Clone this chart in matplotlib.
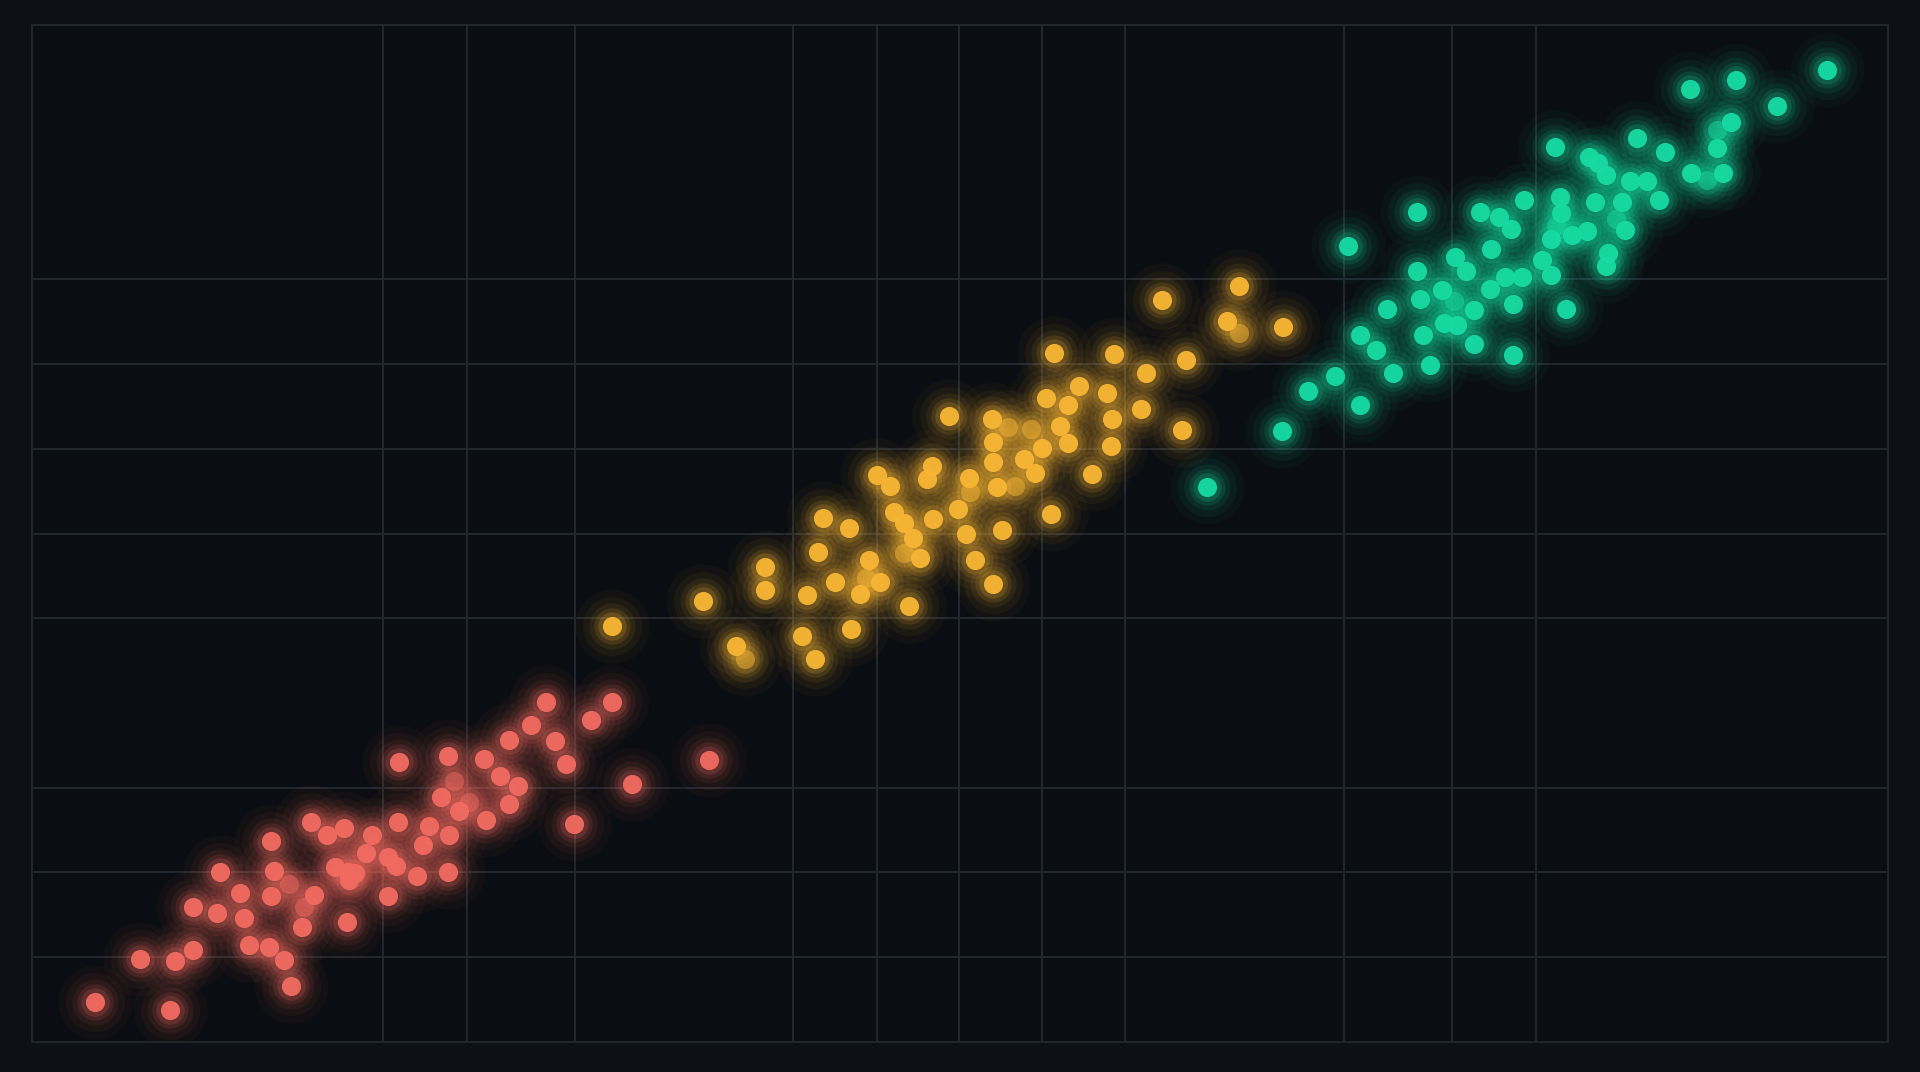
import matplotlib
matplotlib.use("Agg")
import matplotlib.pyplot as plt

# cluster values (x, y), axis range 0-100
red_x = [3.42, 7.45, 5.80, 7.71, 8.70, 13.98, 13.58, 12.79, 11.67, 8.70,
         9.95, 11.41, 11.21, 10.15, 12.86, 13.06, 12.86, 14.57, 15.17, 16.95,
         15.03, 15.89, 16.82, 16.35, 17.08, 17.41, 17.00, 18.00, 18.33, 19.19,
         19.59, 19.19, 19.72, 20.77, 21.04, 21.37, 22.42, 22.49, 22.03, 23.02,
         22.42, 19.78, 24.34, 24.47, 25.19, 25.72, 25.72, 26.18, 26.91, 27.70,
         28.16, 28.76, 29.22, 30.14, 31.26, 32.32, 36.47]
red_y = [3.97, 3.13, 8.19, 7.95, 9.03, 5.54, 8.07, 9.39, 9.51, 13.24,
         12.64, 12.16, 14.69, 16.74, 14.33, 16.86, 19.75, 11.32, 14.45, 11.80,
         21.67, 20.35, 21.07, 17.22, 15.89, 16.62, 16.70, 18.54, 20.35, 18.18,
         17.34, 14.33, 21.67, 16.37, 19.38, 21.19, 16.74, 20.35, 24.08, 22.76,
         28.17, 27.57, 27.81, 21.79, 26.13, 29.74, 23.36, 25.16, 31.18, 33.47,
         29.62, 27.33, 21.43, 31.67, 33.47, 25.40, 27.69]
red_dim_x = [14.64, 13.85, 22.75, 23.54]
red_dim_y = [13.24, 15.53, 25.65, 23.60]

yellow_x = [31.26, 36.14, 37.93, 39.51, 39.51, 41.49, 41.75, 42.21, 42.35, 42.61,
            43.27, 44.00, 44.13, 44.59, 45.12, 45.71, 45.51, 46.24, 46.44, 46.96,
            47.23, 47.49, 47.82, 48.22, 48.48, 48.55, 49.40, 49.87, 50.33, 50.46,
            50.79, 51.71, 51.78, 51.78, 51.78, 51.98, 52.24, 53.43, 54.02, 54.42,
            54.62, 54.88, 55.08, 55.41, 55.81, 55.81, 56.40, 57.12, 57.92, 58.18,
            58.11, 58.31, 59.76, 60.03, 60.88, 61.94, 62.20, 64.38, 65.04, 67.42]
yellow_y = [40.94, 43.34, 38.89, 46.72, 44.43, 39.97, 43.95, 37.69, 48.16, 51.53,
            45.27, 50.57, 40.57, 44.07, 47.44, 45.27, 55.75, 54.66, 52.13, 51.05,
            42.86, 49.60, 47.56, 55.38, 56.59, 51.41, 61.52, 52.37, 49.97, 55.50,
            47.44, 61.28, 59.00, 57.07, 45.03, 54.54, 50.33, 57.31, 55.99, 58.39,
            63.33, 51.89, 67.79, 60.56, 62.61, 58.88, 64.53, 55.87, 63.81, 61.28,
            58.63, 67.66, 62.25, 65.74, 72.96, 60.20, 67.06, 70.92, 74.29, 70.31]
yellow_dim_x = [38.39, 44.92, 46.96, 50.53, 52.57, 52.97, 53.83, 65.04]
yellow_dim_y = [37.69, 45.63, 48.04, 54.06, 60.44, 54.66, 60.32, 69.71]

green_x = [63.32, 67.35, 68.73, 70.19, 70.91, 71.57, 71.57, 72.43, 73.02, 73.35,
           74.61, 74.61, 74.80, 74.94, 75.33, 75.99, 76.06, 76.65, 76.78, 77.25,
           77.71, 77.71, 78.04, 78.56, 78.63, 79.03, 79.36, 79.69, 79.82, 79.82,
           80.28, 80.41, 81.34, 81.86, 81.86, 82.06, 82.33, 82.39, 82.65, 82.99,
           83.91, 83.78, 84.24, 84.37, 84.83, 84.83, 84.90, 85.69, 85.82, 86.09,
           86.48, 87.01, 87.67, 88.00, 89.32, 89.38, 90.77, 91.10, 91.56, 91.82,
           94.00, 96.71]
green_y = [54.54, 60.08, 64.05, 65.50, 78.26, 62.61, 69.47, 68.03, 72.12, 65.74,
           81.63, 75.85, 73.08, 69.47, 66.58, 73.93, 70.67, 77.18, 70.55, 75.85,
           72.00, 68.63, 81.63, 74.05, 78.02, 81.15, 75.25, 79.95, 67.54, 72.60,
           75.25, 82.84, 76.94, 78.98, 75.37, 88.01, 83.08, 81.51, 72.12, 79.34,
           87.05, 79.71, 82.59, 86.45, 85.24, 76.33, 77.54, 82.59, 79.83, 84.64,
           88.86, 84.64, 82.84, 87.53, 93.67, 85.48, 87.89, 85.48, 90.42, 94.63,
           91.99, 95.60]
green_dim_x = [76.59, 85.36, 90.24, 90.77, 82.13]
green_dim_y = [72.84, 80.91, 84.76, 89.70, 80.19]

# irregular grid positions
grid_x = [18.91, 23.44, 29.26, 41.00, 45.53, 49.95, 54.42, 58.89, 70.69, 76.51, 81.03]
grid_y = [8.33, 16.67, 25.0, 41.67, 50.0, 58.33, 66.67, 75.0]

series = [
    (red_x, red_y, red_dim_x, red_dim_y, "#f26b61"),
    (yellow_x, yellow_y, yellow_dim_x, yellow_dim_y, "#f8b634"),
    (green_x, green_y, green_dim_x, green_dim_y, "#17dba2"),
]

fig = plt.figure(figsize=(19.2, 10.72), dpi=100, facecolor="#0d1117")
ax = fig.add_axes([32 / 1920, 30 / 1072, 1856 / 1920, 1017 / 1072])
ax.set_facecolor("#0a0d11")
ax.set_xlim(0, 100)
ax.set_ylim(0, 100)

for gx in grid_x:
    ax.axvline(gx, color="#22272e", lw=1.4, zorder=0)
for gy in grid_y:
    ax.axhline(gy, color="#22272e", lw=1.4, zorder=0)
for sp in ax.spines.values():
    sp.set_color("#22272e")
    sp.set_linewidth(1.4)
ax.set_xticks([])
ax.set_yticks([])

dot = 190
for xs, ys, dx, dy, col in series:
    allx = xs + dx
    ally = ys + dy
    # soft glow made of stacked translucent halos
    for k, a in [(15.0, 0.035), (9.5, 0.05), (5.8, 0.08), (3.6, 0.12), (2.2, 0.18)]:
        ax.scatter(allx, ally, s=dot * k, color=col, alpha=a, lw=0, zorder=1)
    ax.scatter(dx, dy, s=dot, color=col, alpha=0.5, lw=0, zorder=2)
    ax.scatter(xs, ys, s=dot, color=col, alpha=0.95, lw=0, zorder=3)

fig.savefig("out.png", dpi=100, facecolor=fig.get_facecolor())
